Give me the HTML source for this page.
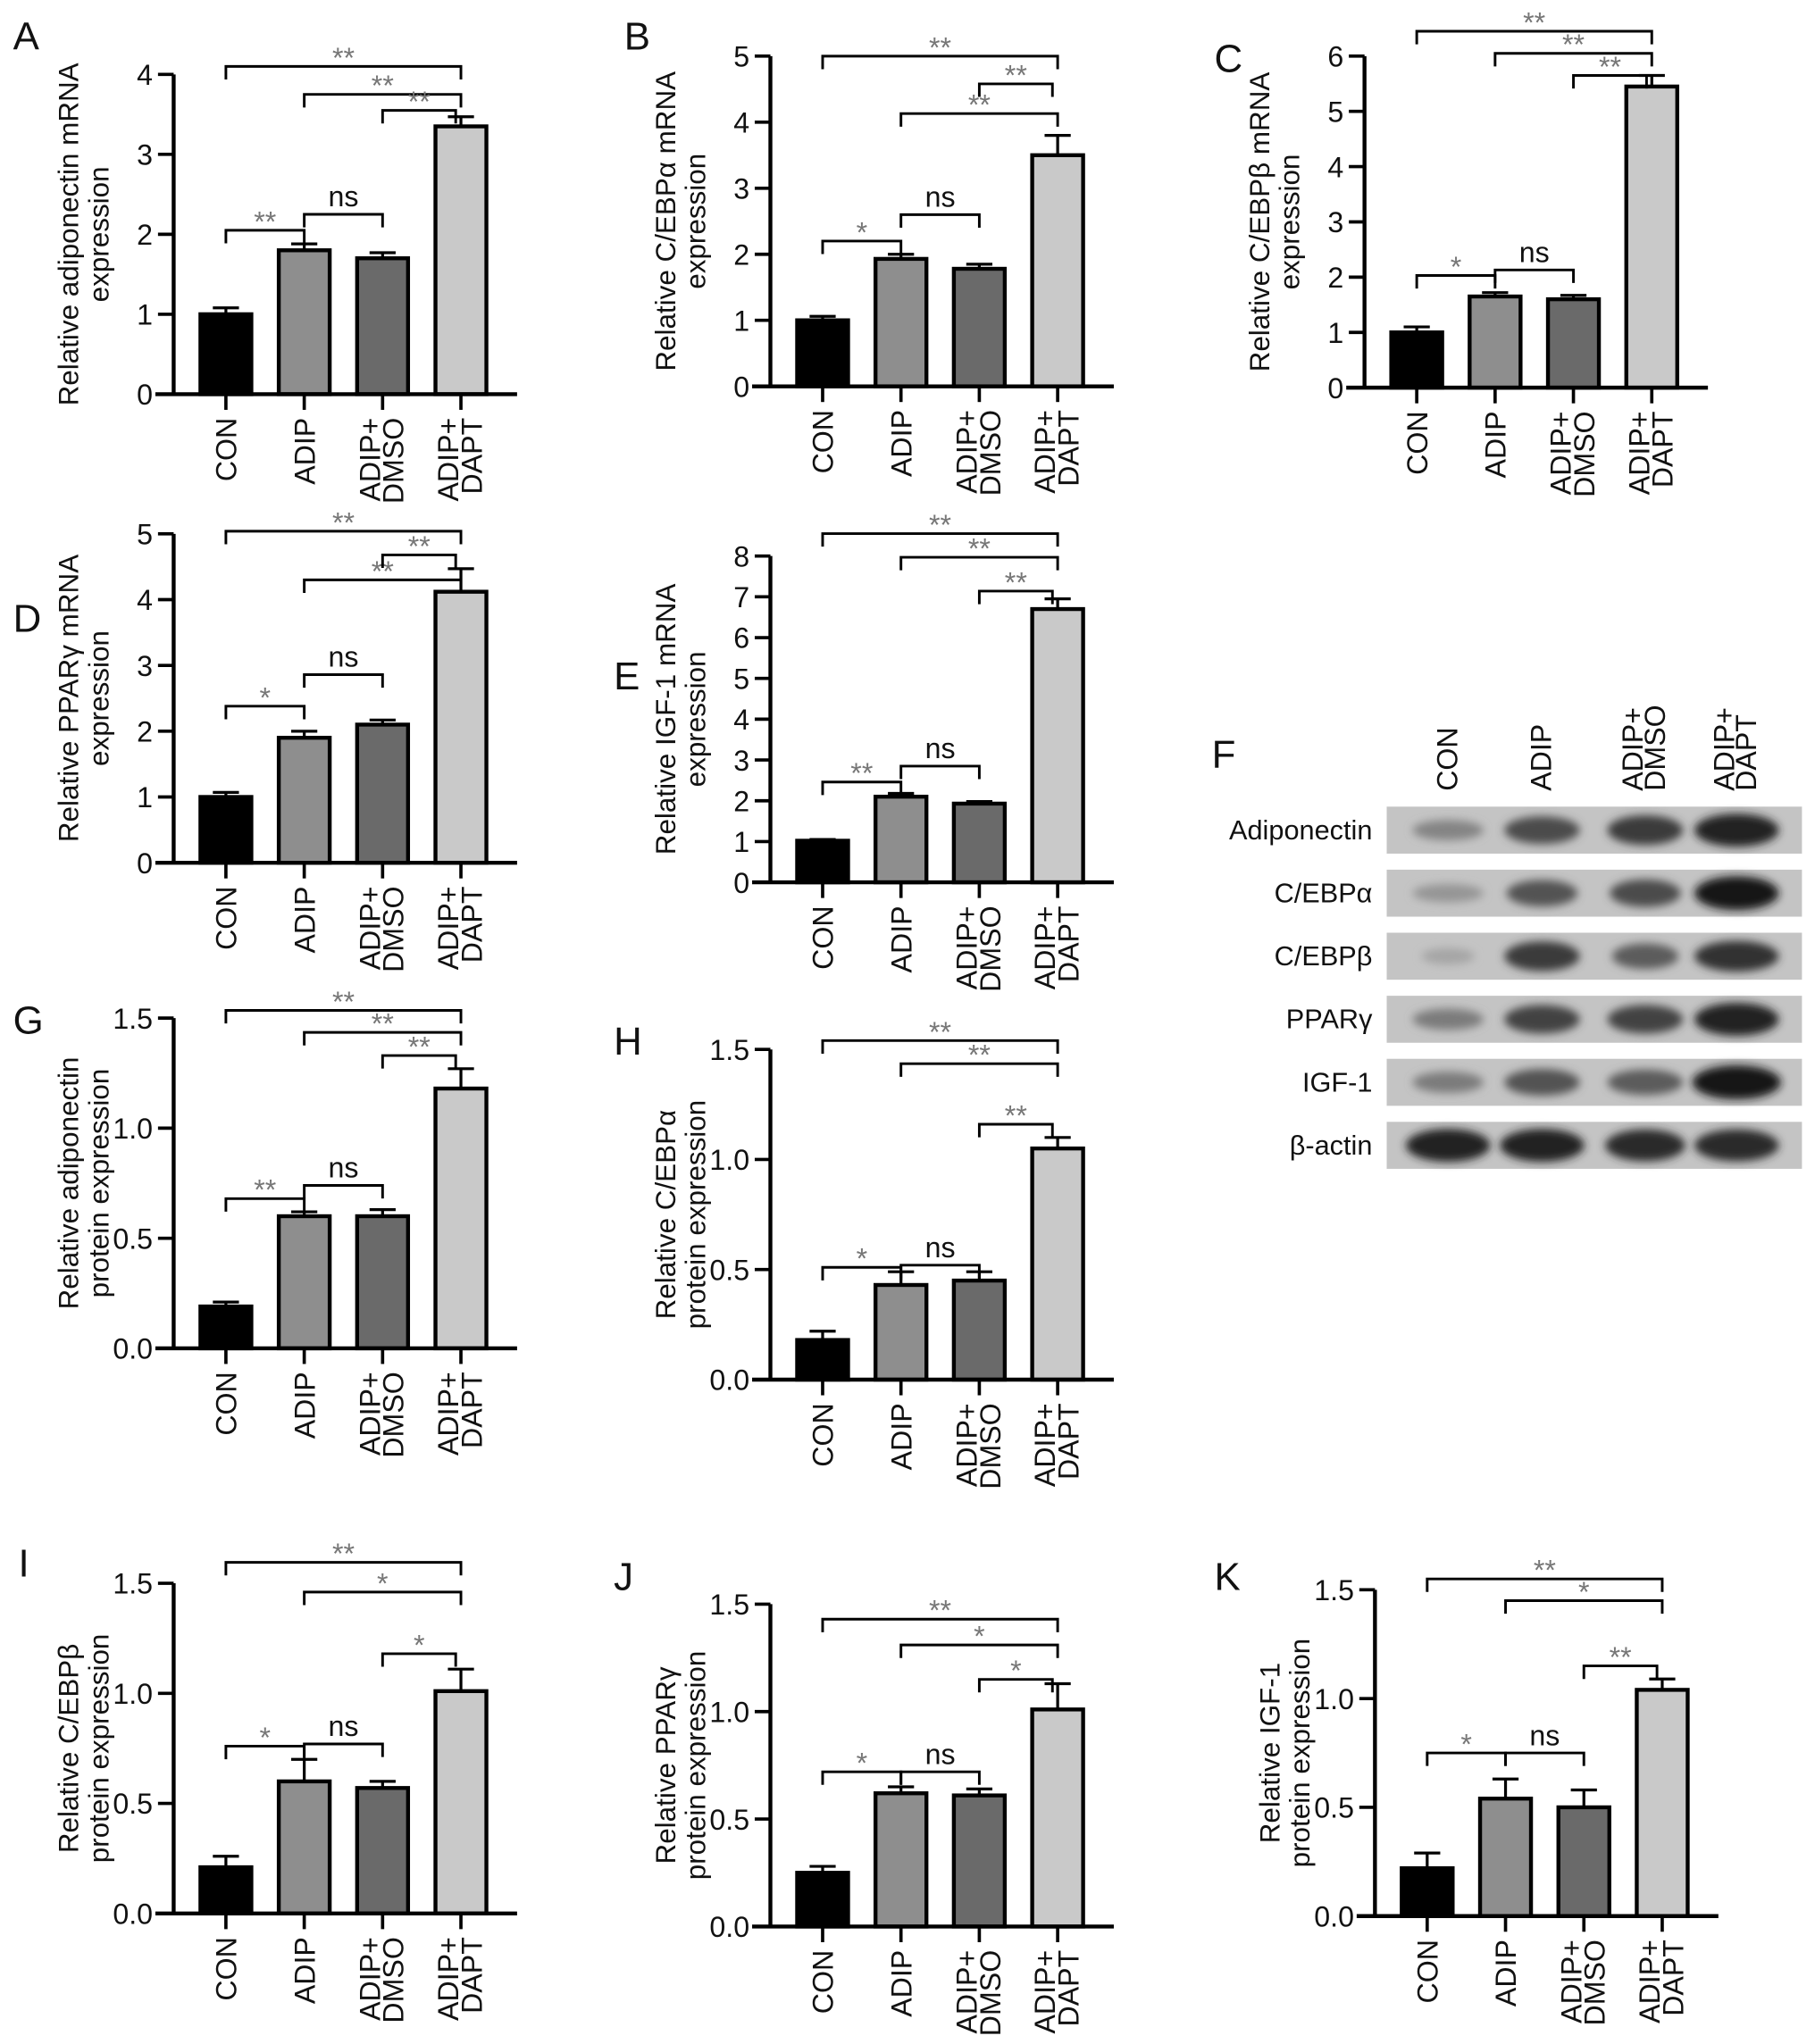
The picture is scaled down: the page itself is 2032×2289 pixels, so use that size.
<!DOCTYPE html>
<html><head><meta charset="utf-8"><style>
html,body{margin:0;padding:0;background:#fff;}
svg{display:block;font-family:"Liberation Sans",Arial,sans-serif;}
</style></head><body>
<svg id="fig" width="2032" height="2289" viewBox="0 0 1390 1566" preserveAspectRatio="none" xmlns="http://www.w3.org/2000/svg">
<defs><filter id="blur" x="-30%" y="-80%" width="160%" height="260%"><feGaussianBlur stdDeviation="3.2"/></filter></defs>
</svg>
<script>
const categories=["CON","ADIP","ADIP+|DMSO","ADIP+|DAPT"];
const barColors=["#000000","#8e8e8e","#6a6a6a","#c9c9c9"];

const aValues=[1.0,1.8,1.7,3.35];
const aErrors=[0.08,0.08,0.07,0.12];
const aTicks=[0,1,2,3,4];
const aSig=[[0,1,2.05,"**"],[1,2,2.25,"ns"],[0,3,4.1,"**"],[1,3,3.75,"**"],[2,3,3.55,"**"]];

const bValues=[1.0,1.93,1.78,3.5];
const bErrors=[0.06,0.07,0.07,0.3];
const bTicks=[0,1,2,3,4,5];
const bSig=[[0,1,2.2,"*"],[1,2,2.6,"ns"],[0,3,5.0,"**"],[1,3,4.13,"**"],[2,3,4.58,"**"]];

const cValues=[1.0,1.65,1.6,5.45];
const cErrors=[0.1,0.07,0.07,0.2];
const cTicks=[0,1,2,3,4,5,6];
const cSig=[[0,1,2.03,"*"],[1,2,2.13,"ns"],[0,3,6.45,"**"],[1,3,6.05,"**"],[2,3,5.65,"**"]];

const dValues=[1.0,1.9,2.1,4.12];
const dErrors=[0.07,0.1,0.07,0.35];
const dTicks=[0,1,2,3,4,5];
const dSig=[[0,1,2.38,"*"],[1,2,2.86,"ns"],[0,3,5.04,"**"],[1,3,4.3,"**"],[2,3,4.68,"**"]];

const eValues=[1.02,2.1,1.93,6.7];
const eErrors=[0.03,0.08,0.05,0.25];
const eTicks=[0,1,2,3,4,5,6,7,8];
const eSig=[[0,1,2.46,"**"],[1,2,2.85,"ns"],[0,3,8.55,"**"],[1,3,7.97,"**"],[2,3,7.14,"**"]];

const gValues=[0.19,0.6,0.6,1.18];
const gErrors=[0.02,0.02,0.03,0.09];
const protTicks=[0,0.5,1.0,1.5];
const protTickLabels=["0.0","0.5","1.0","1.5"];
const gSig=[[0,1,0.68,"**"],[1,2,0.74,"ns"],[0,3,1.535,"**"],[1,3,1.435,"**"],[2,3,1.33,"**"]];

const hValues=[0.18,0.43,0.45,1.05];
const hErrors=[0.04,0.06,0.04,0.05];
const hSig=[[0,1,0.51,"*"],[1,2,0.52,"ns"],[0,3,1.54,"**"],[1,3,1.435,"**"],[2,3,1.16,"**"]];

const iValues=[0.21,0.6,0.57,1.01];
const iErrors=[0.05,0.1,0.03,0.1];
const iSig=[[0,1,0.76,"*"],[1,2,0.77,"ns"],[0,3,1.595,"**"],[1,3,1.46,"*"],[2,3,1.18,"*"]];

const jValues=[0.25,0.62,0.61,1.01];
const jErrors=[0.03,0.03,0.03,0.12];
const jSig=[[0,1,0.72,"*"],[1,2,0.72,"ns"],[0,3,1.43,"**"],[1,3,1.31,"*"],[2,3,1.15,"*"]];

const kValues=[0.22,0.54,0.5,1.04];
const kErrors=[0.07,0.09,0.08,0.05];
const kSig=[[0,1,0.75,"*"],[1,2,0.75,"ns"],[0,3,1.55,"**"],[1,3,1.45,"*"],[2,3,1.15,"**"]];

const blotRows=["Adiponectin","C/EBPα","C/EBPβ","PPARγ","IGF-1","β-actin"];
const blotIntensity=[[0.35,0.7,0.8,0.95],[0.25,0.65,0.7,1.0],[0.15,0.8,0.6,0.85],[0.4,0.75,0.75,0.95],[0.4,0.65,0.6,1.0],[0.95,0.95,0.9,0.9]];
const blotWidth=[[0.8,0.85,0.85,0.95],[0.8,0.8,0.8,0.95],[0.6,0.85,0.75,0.95],[0.8,0.85,0.85,0.95],[0.8,0.85,0.85,1.0],[0.95,0.95,0.9,0.95]];

const svg=document.getElementById('fig');
const NS="http://www.w3.org/2000/svg";
function mk(tag,attrs,parent){const e=document.createElementNS(NS,tag);for(const k in attrs)e.setAttribute(k,attrs[k]);(parent||svg).appendChild(e);return e;}

const panels=[
 {id:"a",letter:"A",lx:10,ly:38,ax:133,y0:302,yt:57,ymax:4,ticks:aTicks,tl:null,vals:aValues,errs:aErrors,sig:aSig,title:["Relative adiponectin mRNA","expression"]},
 {id:"b",letter:"B",lx:478,ly:38,ax:590,y0:296,yt:43,ymax:5,ticks:bTicks,tl:null,vals:bValues,errs:bErrors,sig:bSig,title:["Relative C/EBPα mRNA","expression"]},
 {id:"c",letter:"C",lx:930,ly:55,ax:1045,y0:297,yt:43,ymax:6,ticks:cTicks,tl:null,vals:cValues,errs:cErrors,sig:cSig,title:["Relative C/EBPβ mRNA","expression"]},
 {id:"d",letter:"D",lx:10,ly:484,ax:133,y0:661,yt:409,ymax:5,ticks:dTicks,tl:null,vals:dValues,errs:dErrors,sig:dSig,title:["Relative PPARγ mRNA","expression"]},
 {id:"e",letter:"E",lx:470,ly:528,ax:590,y0:676,yt:426,ymax:8,ticks:eTicks,tl:null,vals:eValues,errs:eErrors,sig:eSig,title:["Relative IGF-1 mRNA","expression"]},
 {id:"g",letter:"G",lx:10,ly:792,ax:133,y0:1033,yt:780,ymax:1.5,ticks:protTicks,tl:protTickLabels,vals:gValues,errs:gErrors,sig:gSig,title:["Relative adiponectin","protein expression"]},
 {id:"h",letter:"H",lx:470,ly:808,ax:590,y0:1057,yt:804,ymax:1.5,ticks:protTicks,tl:protTickLabels,vals:hValues,errs:hErrors,sig:hSig,title:["Relative C/EBPα","protein expression"]},
 {id:"i",letter:"I",lx:14,ly:1208,ax:133,y0:1466,yt:1213,ymax:1.5,ticks:protTicks,tl:protTickLabels,vals:iValues,errs:iErrors,sig:iSig,title:["Relative C/EBPβ","protein expression"]},
 {id:"j",letter:"J",lx:470,ly:1218,ax:590,y0:1476,yt:1229,ymax:1.5,ticks:protTicks,tl:protTickLabels,vals:jValues,errs:jErrors,sig:jSig,title:["Relative PPARγ","protein expression"]},
 {id:"k",letter:"K",lx:930,ly:1218,ax:1053,y0:1468,yt:1218,ymax:1.5,ticks:protTicks,tl:protTickLabels,vals:kValues,errs:kErrors,sig:kSig,title:["Relative IGF-1","protein expression"]}
];

panels.forEach(p=>{
  const g=mk('g',{});
  
  
  const ys=v=>p.y0-(v/p.ymax)*(p.y0-p.yt);
  const cx=i=>p.ax+40+60*i;
  const lt=mk('text',{x:p.lx,y:p.ly,'font-size':30,fill:'#111'},g);lt.textContent=p.letter;
  
  
  p.vals.forEach((v,i)=>{
    const r=mk('rect',{x:cx(i)-19.5,y:ys(v),width:39,height:p.y0-ys(v),fill:barColors[i],stroke:'#000','stroke-width':3},g);
    
    
    const top=ys(v+p.errs[i]);
    const eb=mk('path',{d:`M${cx(i)} ${ys(v)}V${top}M${cx(i)-10} ${top}H${cx(i)+10}`,stroke:'#000','stroke-width':2.2,fill:'none'},g);
    
    
  });
  const ya=mk('path',{d:`M${p.ax} ${p.y0}V${p.yt}`,stroke:'#000','stroke-width':3,fill:'none'},g);
  
  
  const xa=mk('path',{d:`M${p.ax-14} ${p.y0}H${p.ax+263}`,stroke:'#000','stroke-width':3,fill:'none'},g);
  
  
  p.ticks.forEach((t,k)=>{
    mk('path',{d:`M${p.ax-12} ${ys(t)}H${p.ax}`,stroke:'#000','stroke-width':2.5},g);
    const tx=mk('text',{x:p.ax-16,y:ys(t)+8,'text-anchor':'end','font-size':22,fill:'#111'},g);
    tx.textContent=p.tl?p.tl[k]:String(t);
    
    
  });
  categories.forEach((c,i)=>{
    mk('path',{d:`M${cx(i)} ${p.y0}V${p.y0+12}`,stroke:'#000','stroke-width':2.5},g);
    const parts=c.split('|');
    parts.forEach((s,k)=>{
      const x=parts.length===1?cx(i)+8:cx(i)-2+k*18;
      const t=mk('text',{x:x,y:p.y0+18,'text-anchor':'end','font-size':22,fill:'#111',transform:`rotate(-90 ${x} ${p.y0+18})`},g);
      t.textContent=s;
      
      
    });
  });
  const mid=(p.y0+p.yt)/2;
  p.title.forEach((s,k)=>{
    const x=p.ax-73+k*23;
    const t=mk('text',{x:x,y:mid,'text-anchor':'middle','font-size':21.5,fill:'#111',transform:`rotate(-90 ${x} ${mid})`},g);
    t.textContent=s;
    
    
  });
  p.sig.forEach(s=>{
    const y=ys(s[2]);const x1=cx(s[0]), x2=cx(s[1])-(s[1]-s[0]===1&&s[3]!=="ns"&&s[1]===3?4:0);
    const b=mk('path',{d:`M${x1} ${y+10}V${y}H${x2}V${y+10}`,stroke:'#000','stroke-width':2,fill:'none'},g);
    
    
    const ns=s[3]==="ns";
    const t=mk('text',{x:(x1+x2)/2,y:ns?y-6:y+1,'text-anchor':'middle','font-size':ns?22:22,fill:ns?'#111':'#777'},g);
    t.textContent=s[3];
    
    
  });
});

const fg=mk('g',{});


const fl=mk('text',{x:928,y:588,'font-size':30,fill:'#111'},fg);fl.textContent="F";


const laneX=[1109,1181,1260,1330];
const laneLabels=["CON","ADIP","ADIP+|DMSO","ADIP+|DAPT"];
laneLabels.forEach((c,i)=>{
  const parts=c.split('|');
  parts.forEach((s,k)=>{
    const x=parts.length===1?laneX[i]+7:laneX[i]-2+k*17;
    const t=mk('text',{x:x,y:606,'font-size':22,fill:'#111',transform:`rotate(-90 ${x} 606)`},fg);
    t.textContent=s;
    
    
  });
});
blotRows.forEach((r,ri)=>{
  const top=618+ri*48.3;
  const box=mk('rect',{x:1062,y:top,width:318,height:36,fill:'#c4c4c4'},fg);
  
  
  const lab=mk('text',{x:1051,y:top+25,'text-anchor':'end','font-size':21,fill:'#111'},fg);
  lab.textContent=r;
  
  
  laneX.forEach((x,li)=>{
    const it=blotIntensity[ri][li];const w=blotWidth[ri][li];
    const shade=Math.round(190-it*165);
    const e=mk('ellipse',{cx:x,cy:top+18,rx:34*w,ry:5+8*it,fill:`rgb(${shade},${shade},${shade})`,filter:'url(#blur)'},fg);
    
    
  });
});
</script>
</body></html>
